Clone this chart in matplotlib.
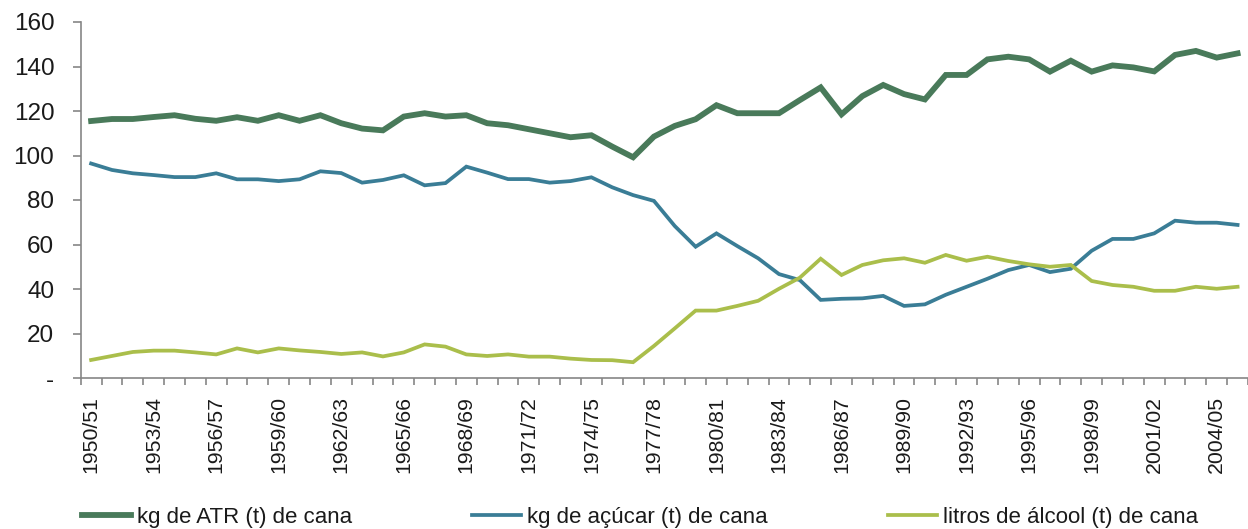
import matplotlib.pyplot as plt
import numpy as np

plt.rcParams["font.family"] = ["Liberation Sans", "DejaVu Sans"]

seasons = [f"{y}/{(y + 1) % 100:02d}" for y in range(1950, 2006)]

atr = [115.5, 116.4, 116.4, 117.3, 118.1, 116.5, 115.6, 117.2, 115.6, 118.1,
       115.6, 118.1, 114.5, 112.1, 111.3, 117.5, 119.0, 117.5, 118.1, 114.5,
       113.6, 111.8, 110.0, 108.2, 109.1, 104.0, 99.2, 108.5, 113.3, 116.3,
       122.6, 119.0, 119.0, 119.0, 124.9, 130.6, 118.5, 126.7, 131.7, 127.6,
       125.2, 136.2, 136.2, 143.2, 144.4, 143.2, 137.7, 142.6, 137.7, 140.5,
       139.6, 137.8, 145.2, 147.0, 144.0, 145.9]

acucar = [96.4, 93.5, 92.0, 91.2, 90.3, 90.3, 92.0, 89.3, 89.3, 88.5,
          89.3, 92.9, 92.1, 87.8, 89.0, 91.1, 86.6, 87.6, 95.0, 92.3,
          89.4, 89.4, 87.8, 88.5, 90.2, 85.7, 82.2, 79.6, 68.3, 59.0,
          65.0, 59.3, 53.8, 46.7, 44.0, 35.1, 35.6, 35.8, 36.9, 32.4,
          33.1, 37.4, 41.0, 44.6, 48.5, 50.8, 47.6, 49.1, 57.2, 62.5,
          62.5, 65.0, 70.7, 69.8, 69.8, 68.8]

alcool = [8.1, 9.9, 11.7, 12.3, 12.3, 11.5, 10.6, 13.3, 11.5, 13.3,
          12.4, 11.7, 10.8, 11.5, 9.7, 11.5, 15.1, 14.1, 10.6, 9.9,
          10.6, 9.6, 9.6, 8.7, 8.1, 8.0, 7.1, 14.4, 22.3, 30.3,
          30.3, 32.4, 34.7, 40.1, 45.1, 53.6, 46.3, 50.8, 52.9, 53.8,
          51.8, 55.3, 52.7, 54.5, 52.6, 51.1, 50.0, 50.8, 43.6, 41.8,
          41.0, 39.2, 39.2, 41.0, 40.1, 41.0]

series = [
    ("kg de ATR (t) de cana", atr, "#497A5A", 4.2),
    ("kg de açúcar (t) de cana", acucar, "#3A7D96", 2.7),
    ("litros de álcool (t) de cana", alcool, "#AABE4B", 2.7),
]

fig = plt.figure(figsize=(12.48, 5.29), dpi=100)
ax = fig.add_axes([80.7 / 1248, 151 / 529, 1 - 80.7 / 1248, 356 / 529])

x = np.arange(len(seasons))
for label, vals, color, lw in series:
    ax.plot(x, vals, color=color, linewidth=lw, label=label,
            solid_joinstyle="miter")

ax.set_ylim(0, 160)
ax.set_yticks(range(0, 161, 20))
ax.set_yticklabels(["-"] + [str(v) for v in range(20, 161, 20)])
ax.set_xlim(-0.5, 55.13)
ax.set_xticks(x[::3])
ax.set_xticklabels(seasons[::3], rotation=90)
ax.set_xticks(np.arange(-0.5, 56, 1), minor=True)

axis_color = "#868686"
for side in ("top", "right"):
    ax.spines[side].set_visible(False)
for side in ("left", "bottom"):
    ax.spines[side].set_color(axis_color)
    ax.spines[side].set_linewidth(1.2)

ax.tick_params(axis="y", length=6, width=1.2, color=axis_color, pad=13,
               labelsize=17.5, labelcolor="#1a1a1a")
ax.tick_params(axis="x", which="major", length=0, pad=13,
               labelsize=15.3, labelcolor="#1a1a1a")
ax.tick_params(axis="x", which="minor", length=5, width=1.2,
               color=axis_color)

fig.legend(loc="center left", bbox_to_anchor=(82 / 1248, 12 / 529),
           ncol=3, frameon=False, fontsize=16, handlelength=2.2,
           handletextpad=0.28, columnspacing=5.4, borderpad=0,
           borderaxespad=0, labelcolor="#1a1a1a")

fig.savefig("out.png", dpi=100)
